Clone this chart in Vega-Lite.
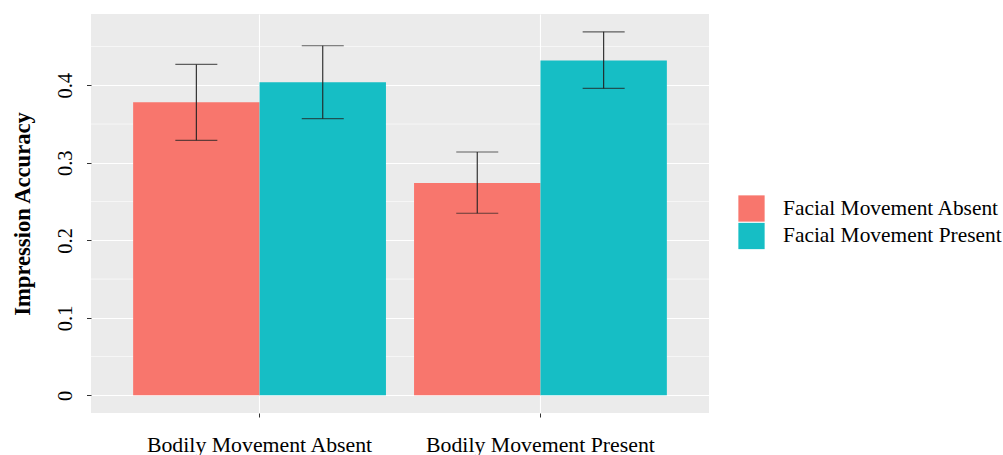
{
  "$schema": "https://vega.github.io/schema/vega-lite/v6.json",
  "width": 618,
  "height": 399,
  "autosize": {"type": "none"},
  "padding": {"left": 91, "top": 14, "right": 294, "bottom": 42},
  "background": "white",
  "config": {
    "view": {"fill": "#EBEBEB", "stroke": null},
    "font": "Liberation Serif",
    "axis": {"labelFont": "Liberation Serif", "titleFont": "Liberation Serif", "labelColor": "#000000", "titleColor": "#000000", "labelLimit": 0},
    "legend": {"labelFont": "Liberation Serif", "labelLimit": 0}
  },
  "data": {
    "values": [
      {"bodily": "Bodily Movement Absent", "facial": "Facial Movement Absent", "mean": 0.378, "lo": 0.329, "hi": 0.427},
      {"bodily": "Bodily Movement Absent", "facial": "Facial Movement Present", "mean": 0.404, "lo": 0.357, "hi": 0.451},
      {"bodily": "Bodily Movement Present", "facial": "Facial Movement Absent", "mean": 0.274, "lo": 0.235, "hi": 0.314},
      {"bodily": "Bodily Movement Present", "facial": "Facial Movement Present", "mean": 0.432, "lo": 0.396, "hi": 0.469}
    ]
  },
  "layer": [
    {
      "data": {"values": [{"g": 0.05}, {"g": 0.15}, {"g": 0.25}, {"g": 0.35}, {"g": 0.45}]},
      "mark": {"type": "rule", "color": "white", "strokeWidth": 0.6},
      "encoding": {
        "y": {"field": "g", "type": "quantitative", "title": "Impression Accuracy", "scale": {"domain": [-0.0228, 0.492], "nice": false, "zero": false}}
      }
    },
    {
      "mark": {"type": "bar"},
      "encoding": {
        "x": {
          "field": "bodily", "type": "nominal",
          "scale": {"paddingInner": 0.1, "paddingOuter": 0.15},
          "axis": {
            "title": null, "labelAngle": 0, "labelFontSize": 21.8, "labelPadding": 17, "labelLimit": 0,
            "tickSize": 4, "tickColor": "#333333", "tickWidth": 1,
            "grid": true, "gridColor": "white", "gridWidth": 1.1, "domain": false, "bandPosition": 0.5
          }
        },
        "xOffset": {"field": "facial", "type": "nominal"},
        "y": {
          "field": "mean", "type": "quantitative", "title": "Impression Accuracy",
          "scale": {"domain": [-0.0228, 0.492], "nice": false, "zero": false},
          "axis": {
            "values": [0, 0.1, 0.2, 0.3, 0.4], "format": "~g",
            "labelAngle": -90, "labelAlign": "center", "labelBaseline": "bottom",
            "labelFontSize": 20.5, "labelPadding": 11,
            "tickSize": 4.5, "tickColor": "#333333", "tickWidth": 1,
            "grid": true, "gridColor": "white", "gridWidth": 1.1, "domain": false,
            "titleFontSize": 22.6, "titleFontWeight": "bold", "titlePadding": 21
          }
        },
        "y2": {"datum": 0},
        "color": {
          "field": "facial", "type": "nominal",
          "scale": {"domain": ["Facial Movement Absent", "Facial Movement Present"], "range": ["#F8766D", "#16BEC5"]},
          "legend": {
            "title": null, "orient": "none", "legendX": 647, "legendY": 181,
            "padding": 0, "symbolType": "square", "symbolSize": 690, "symbolStrokeWidth": 0,
            "labelFontSize": 21.4, "labelColor": "#000000", "labelOffset": 18, "rowPadding": 0.5, "labelLimit": 0
          }
        }
      }
    },
    {
      "mark": {"type": "rule", "color": "#222222", "strokeWidth": 1.1},
      "encoding": {
        "x": {"field": "bodily", "type": "nominal"},
        "xOffset": {"field": "facial", "type": "nominal"},
        "y": {"field": "lo", "type": "quantitative", "title": "Impression Accuracy"},
        "y2": {"field": "hi"}
      }
    },
    {
      "mark": {"type": "tick", "color": "#222222", "size": 42, "thickness": 1.1},
      "encoding": {
        "x": {"field": "bodily", "type": "nominal"},
        "xOffset": {"field": "facial", "type": "nominal"},
        "y": {"field": "hi", "type": "quantitative", "title": "Impression Accuracy"}
      }
    },
    {
      "mark": {"type": "tick", "color": "#222222", "size": 42, "thickness": 1.1},
      "encoding": {
        "x": {"field": "bodily", "type": "nominal"},
        "xOffset": {"field": "facial", "type": "nominal"},
        "y": {"field": "lo", "type": "quantitative", "title": "Impression Accuracy"}
      }
    }
  ]
}
